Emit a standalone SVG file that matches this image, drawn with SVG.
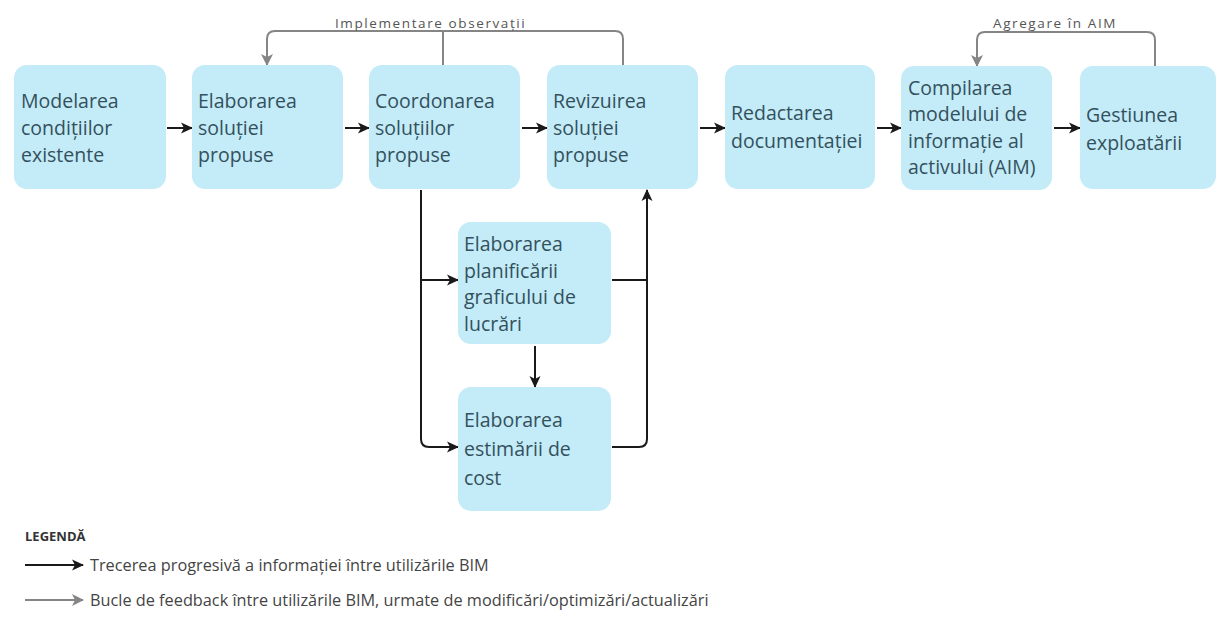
<svg xmlns="http://www.w3.org/2000/svg" width="1217" height="630" viewBox="0 0 1217 630">
  <defs>
    <marker id="arrBlack" markerWidth="12" markerHeight="12" refX="11" refY="6" orient="auto" markerUnits="userSpaceOnUse">
      <path d="M0,0.5 L12,6 L0,11.5 L3,6 Z" fill="#1a1a1a"/>
    </marker>
    <marker id="arrGrey" markerWidth="13" markerHeight="13" refX="11" refY="6.5" orient="auto" markerUnits="userSpaceOnUse">
      <path d="M0,0.5 L12,6.5 L0,12.5 L3,6.5 Z" fill="#858585"/>
    </marker>
  </defs>
  <style>
    .box { fill: #c4ebf8; }
    .lbl { font-family: "Open Sans", "Noto Sans", sans-serif; font-size: 19.5px; fill: #33515c; }
    .flow { fill: none; stroke: #1a1a1a; stroke-width: 2; }
    .fb { fill: none; stroke: #858585; stroke-width: 2; }
    .fbl { font-family: "Open Sans", "Noto Sans", sans-serif; font-size: 13.5px; letter-spacing: 1.6px; fill: #555; }
    .leg { font-family: "Open Sans", "Noto Sans", sans-serif; font-size: 16.3px; fill: #444; }
    .legh { font-family: "Open Sans", "Noto Sans", sans-serif; font-size: 13px; font-weight: bold; fill: #333; }
  </style>
  <rect width="1217" height="630" fill="#ffffff"/>

  <!-- connectors -->
  <g id="connectors">
    <!-- main chain -->
    <path class="flow" d="M167,128 H192" marker-end="url(#arrBlack)"/>
    <path class="flow" d="M345,128 H369" marker-end="url(#arrBlack)"/>
    <path class="flow" d="M522,128 H547" marker-end="url(#arrBlack)"/>
    <path class="flow" d="M700,128 H725" marker-end="url(#arrBlack)"/>
    <path class="flow" d="M877,128 H901" marker-end="url(#arrBlack)"/>
    <path class="flow" d="M1054,128 H1080" marker-end="url(#arrBlack)"/>
    <!-- branch from coordination to schedule and cost -->
    <path class="flow" d="M421,190 V439 Q421,447 429,447 H458" marker-end="url(#arrBlack)"/>
    <path class="flow" d="M421,280 H458" marker-end="url(#arrBlack)"/>
    <!-- schedule to cost -->
    <path class="flow" d="M535,346 V387" marker-end="url(#arrBlack)"/>
    <!-- merge into review -->
    <path class="flow" d="M612,447 H639 Q647,447 647,439 V190" marker-end="url(#arrBlack)"/>
    <path class="flow" d="M612,280 H647"/>
    <!-- feedback loops -->
    <path class="fb" d="M623,65 V39 Q623,31 615,31 H275 Q267,31 267,39 V65" marker-end="url(#arrGrey)"/>
    <path class="fb" d="M443,65 V31"/>
    <path class="fb" d="M1155,66 V40 Q1155,32 1147,32 H985 Q977,32 977,40 V66" marker-end="url(#arrGrey)"/>
    <text class="fbl" x="335" y="28">Implementare observații</text>
    <text class="fbl" x="993" y="28">Agregare în AIM</text>
  </g>

  <g id="n1">
    <rect class="box" x="14" y="65" width="152" height="124" rx="13"/>
    <text class="lbl" x="21" y="108">Modelarea</text>
    <text class="lbl" x="21" y="135">condițiilor</text>
    <text class="lbl" x="21" y="162">existente</text>
  </g>
  <g id="n2">
    <rect class="box" x="192" y="65" width="151" height="124" rx="13"/>
    <text class="lbl" x="198" y="108">Elaborarea</text>
    <text class="lbl" x="198" y="135">soluției</text>
    <text class="lbl" x="198" y="162">propuse</text>
  </g>
  <g id="n3">
    <rect class="box" x="369" y="65" width="151" height="124" rx="13"/>
    <text class="lbl" x="375" y="108">Coordonarea</text>
    <text class="lbl" x="375" y="135">soluțiilor</text>
    <text class="lbl" x="375" y="162">propuse</text>
  </g>
  <g id="n4">
    <rect class="box" x="547" y="65" width="151" height="124" rx="13"/>
    <text class="lbl" x="553" y="108">Revizuirea</text>
    <text class="lbl" x="553" y="135">soluției</text>
    <text class="lbl" x="553" y="162">propuse</text>
  </g>
  <g id="n5">
    <rect class="box" x="725" y="65" width="150" height="124" rx="13"/>
    <text class="lbl" x="731" y="120">Redactarea</text>
    <text class="lbl" x="731" y="148">documentației</text>
  </g>
  <g id="n6">
    <rect class="box" x="901" y="66" width="151" height="124" rx="13"/>
    <text class="lbl" x="908" y="95">Compilarea</text>
    <text class="lbl" x="908" y="121">modelului de</text>
    <text class="lbl" x="908" y="148">informație al</text>
    <text class="lbl" x="908" y="174">activului (AIM)</text>
  </g>
  <g id="n7">
    <rect class="box" x="1080" y="66" width="136" height="123" rx="13"/>
    <text class="lbl" x="1086" y="122">Gestiunea</text>
    <text class="lbl" x="1086" y="150">exploatării</text>
  </g>
  <g id="n8">
    <rect class="box" x="458" y="222" width="153" height="122" rx="13"/>
    <text class="lbl" x="464" y="251">Elaborarea</text>
    <text class="lbl" x="464" y="278">planificării</text>
    <text class="lbl" x="464" y="304">graficului de</text>
    <text class="lbl" x="464" y="331">lucrări</text>
  </g>
  <g id="n9">
    <rect class="box" x="458" y="387" width="153" height="124" rx="13"/>
    <text class="lbl" x="464" y="427">Elaborarea</text>
    <text class="lbl" x="464" y="456">estimării de</text>
    <text class="lbl" x="464" y="485">cost</text>
  </g>

  <!-- legend -->
  <g id="legend">
    <text class="legh" x="25" y="541">LEGENDĂ</text>
    <path class="flow" d="M25,565 H83" marker-end="url(#arrBlack)"/>
    <text class="leg" x="90" y="571">Trecerea progresivă a informației între utilizările BIM</text>
    <path class="fb" d="M25,600 H83" marker-end="url(#arrGrey)"/>
    <text class="leg" x="90" y="606">Bucle de feedback între utilizările BIM, urmate de modificări/optimizări/actualizări</text>
  </g>
</svg>
